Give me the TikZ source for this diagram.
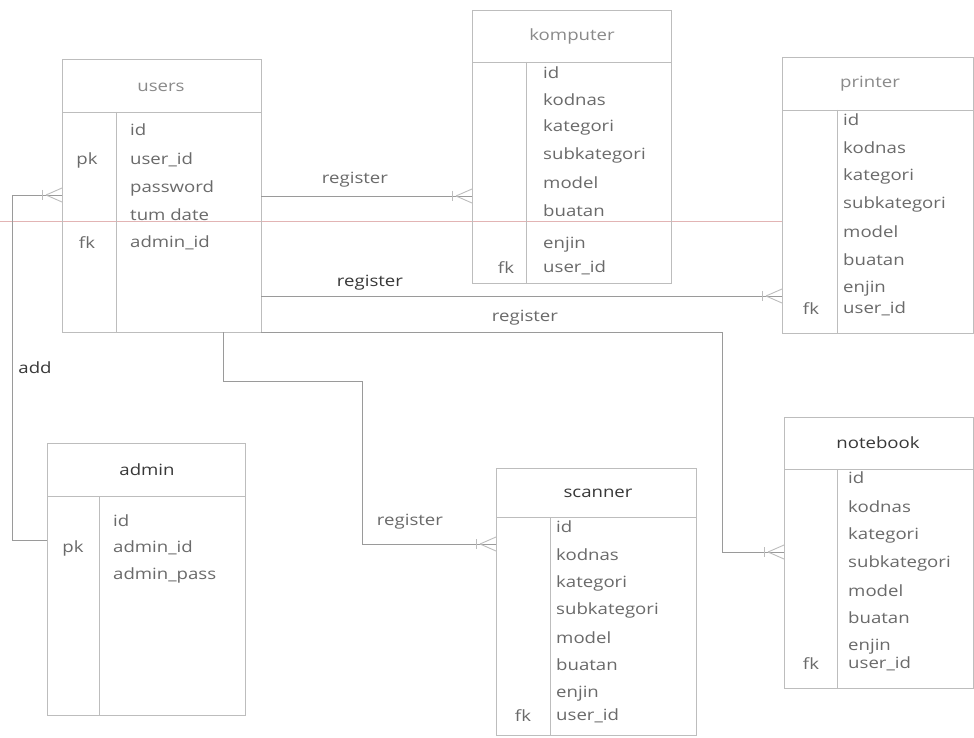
\documentclass[tikz,border=0pt]{standalone}
\usepackage{fontspec}
\setmainfont[FakeStretch=1.2]{Open Sans}
\definecolor{boxgray}{HTML}{BDBDBD}
\definecolor{lngray}{HTML}{9A9A9A}
\definecolor{txtgray}{HTML}{6A6A6A}
\definecolor{ttllight}{HTML}{8A8A8A}
\definecolor{ttldark}{HTML}{383838}
\definecolor{scanred}{HTML}{E2B4B4}
\begin{document}
\begin{tikzpicture}[x=1pt,y=-1pt,
  font=\fontsize{15.5}{18}\selectfont,
  entity/.style={draw=boxgray, line width=0.9pt, anchor=north west, inner sep=0pt, outer sep=0pt},
  sep/.style={draw=boxgray, line width=0.9pt},
  fld/.style={anchor=west, text=txtgray, inner sep=0pt},
  keyf/.style={anchor=center, text=txtgray, inner sep=0pt},
  ttl/.style={anchor=center, text=ttllight, inner sep=0pt},
  ttld/.style={anchor=center, text=ttldark, inner sep=0pt},
  lbl/.style={anchor=center, text=txtgray, inner sep=0pt},
  conn/.style={draw=lngray, line width=0.9pt},
  crowfoot/.pic={
    \draw[conn, draw=boxgray] (-16,0) -- (0,-7);
    \draw[conn, draw=boxgray] (-16,0) -- (0,7);
    \draw[conn, draw=boxgray] (-20,-5) -- (-20,5);
  }]
\useasboundingbox (0,0) rectangle (974,738);
\fill[white] (0,0) rectangle (974,738);

% scan artifact line
\draw[scanred, line width=0.6pt] (0,221) -- (782,221);

% ---------- users ----------
\node[entity, minimum width=199pt, minimum height=273pt] (users) at (62,59) {};
\draw[sep] (62,112) -- (261,112);
\draw[sep] (116,112) -- (116,332);
\node[ttl] (usersT) at (161,87) {users};
\node[fld] (u1) at (130,130) {id};
\node[fld] (u2) at (130,160) {user\_id};
\node[fld] (u3) at (130,188) {password};
\node[fld] (u4) at (130,215) {tum date};
\node[fld] (u5) at (130,243) {admin\_id};
\node[keyf] (uk1) at (87,160) {pk};
\node[keyf] (uk2) at (87,243) {fk};

% ---------- komputer ----------
\node[entity, minimum width=199pt, minimum height=273pt] (komputer) at (472,10) {};
\draw[sep] (472,62) -- (671,62);
\draw[sep] (526,62) -- (526,283);
\node[ttl] (komputerT) at (572,36) {komputer};
\node[fld] (k1) at (543,73) {id};
\node[fld] (k2) at (543,100) {kodnas};
\node[fld] (k3) at (543,127) {kategori};
\node[fld] (k4) at (543,155) {subkategori};
\node[fld] (k5) at (543,183) {model};
\node[fld] (k6) at (543,211) {buatan};
\node[fld] (k7) at (543,245) {enjin};
\node[fld] (k8) at (543,268) {user\_id};
\node[keyf] (kk1) at (506,268) {fk};

% ---------- printer ----------
\node[entity, minimum width=191pt, minimum height=276pt] (printer) at (782,57) {};
\draw[sep] (782,110) -- (973,110);
\draw[sep] (837,110) -- (837,333);
\node[ttl] (printerT) at (870,84) {printer};
\node[fld] (p1) at (843,120) {id};
\node[fld] (p2) at (843,148) {kodnas};
\node[fld] (p3) at (843,176) {kategori};
\node[fld] (p4) at (843,204) {subkategori};
\node[fld] (p5) at (843,232) {model};
\node[fld] (p6) at (843,260) {buatan};
\node[fld] (p7) at (843,289) {enjin};
\node[fld] (p8) at (843,309) {user\_id};
\node[keyf] (pk1) at (811,309) {fk};

% ---------- admin ----------
\node[entity, minimum width=198pt, minimum height=272pt] (admin) at (47,443) {};
\draw[sep] (47,496) -- (245,496);
\draw[sep] (99,496) -- (99,715);
\node[ttld] (adminT) at (147,470) {admin};
\node[fld] (a1) at (113,521) {id};
\node[fld] (a2) at (113,548) {admin\_id};
\node[fld] (a3) at (113,575) {admin\_pass};
\node[keyf] (ak1) at (73,548) {pk};

% ---------- scanner ----------
\node[entity, minimum width=200pt, minimum height=267pt] (scanner) at (496,468) {};
\draw[sep] (496,517) -- (696,517);
\draw[sep] (550,517) -- (550,735);
\node[ttld] (scannerT) at (598,493) {scanner};
\node[fld] (s1) at (556,527) {id};
\node[fld] (s2) at (556,555) {kodnas};
\node[fld] (s3) at (556,583) {kategori};
\node[fld] (s4) at (556,610) {subkategori};
\node[fld] (s5) at (556,638) {model};
\node[fld] (s6) at (556,665) {buatan};
\node[fld] (s7) at (556,694) {enjin};
\node[fld] (s8) at (556,716) {user\_id};
\node[keyf] (sk1) at (523,716) {fk};

% ---------- notebook ----------
\node[entity, minimum width=189pt, minimum height=271pt] (notebook) at (784,417) {};
\draw[sep] (784,469) -- (973,469);
\draw[sep] (837,469) -- (837,688);
\node[ttld] (notebookT) at (878,443) {notebook};
\node[fld] (n1) at (848,478) {id};
\node[fld] (n2) at (848,507) {kodnas};
\node[fld] (n3) at (848,535) {kategori};
\node[fld] (n4) at (848,563) {subkategori};
\node[fld] (n5) at (848,591) {model};
\node[fld] (n6) at (848,618) {buatan};
\node[fld] (n7) at (848,647) {enjin};
\node[fld] (n8) at (848,664) {user\_id};
\node[keyf] (nk1) at (811,664) {fk};

% ---------- connectors ----------
% admin -> users (add)
\draw[conn] (admin.west |- 0,540) -- (12,540) -- (12,195) -- (users.west |- 0,195);
\pic at (users.west |- 0,195) {crowfoot};
\node[lbl, text=ttldark] (addL) at (35,368) {add};

% users -> komputer
\draw[conn] (users.east |- 0,196) -- (komputer.west |- 0,196);
\pic at (komputer.west |- 0,196) {crowfoot};
\node[lbl] (r1) at (355,180) {register};

% users -> printer
\draw[conn] (users.east |- 0,296) -- (printer.west |- 0,296);
\pic at (printer.west |- 0,296) {crowfoot};
\node[lbl, text=ttldark] (r2) at (370,283) {register};

% users -> notebook
\draw[conn] (users.south east) -- (722,332) -- (722,552) -- (notebook.west |- 0,552);
\pic at (notebook.west |- 0,552) {crowfoot};
\node[lbl] (r3) at (525,318) {register};

% users -> scanner
\draw[conn] (users.south -| 223,0) -- (223,381) -- (362,381) -- (362,544) -- (scanner.west |- 0,544);
\pic at (scanner.west |- 0,544) {crowfoot};
\node[lbl] (r4) at (410,522) {register};
\end{tikzpicture}
\end{document}
